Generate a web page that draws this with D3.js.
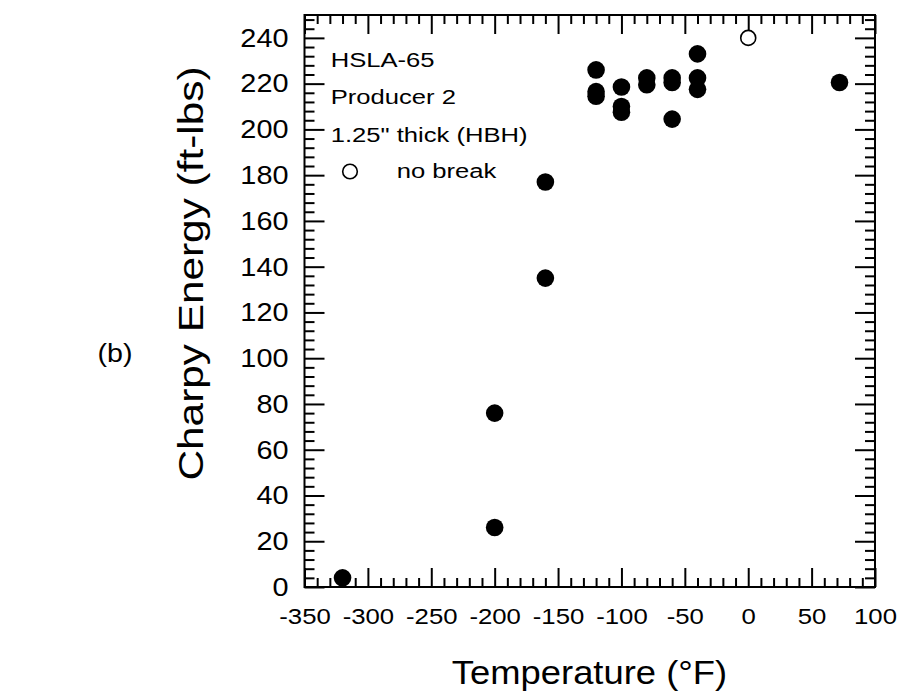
<html>
<head>
<meta charset="UTF-8">
<title>Charpy Energy</title>
<script src="https://d3js.org/d3.v7.min.js"></script>
<style>
html,body{margin:0;padding:0;background:#fff;}
text{font-family:"Liberation Sans",Arial,Helvetica,sans-serif;fill:#000;}
</style>
</head>
<body>
<div id="container"></div>
<script>
// broken specimens
const temps  = [-320, -200, -200, -160, -160, -120, -120, -120, -100, -100, -100, -80, -80, -60, -60, -60, -40, -40, -40, 72]
const energy = [4, 26, 76, 135, 177, 226, 216.5, 214.5, 218.5, 210, 207.5, 222.5, 219.5, 222.5, 220.5, 204.5, 233, 222.5, 217.5, 220.5]
// no break
const noBreakTemps  = [0]
const noBreakEnergy = [240]

const xTicks = [-350, -300, -250, -200, -150, -100, -50, 0, 50, 100]
const yTicks = [0, 20, 40, 60, 80, 100, 120, 140, 160, 180, 200, 220, 240]
const legendLines = ['HSLA-65', 'Producer 2', '1.25" thick (HBH)']
const legendOpen = 'no break'

const width = 898, height = 698
const marge = {top: 15, right: 23, bottom: 111, left: 304.5}
const W = width - marge.left - marge.right
const H = height - marge.top - marge.bottom

const svg = d3.select('#container').append('svg')
  .attr('width', width).attr('height', height)

const g = svg.append('g')
  .attr('transform', 'translate(' + marge.left + ',' + marge.top + ')')

const x = d3.scaleLinear().domain([-350, 100]).range([0, W])
const y = d3.scaleLinear().domain([0, 250]).range([H, 0])

const xMinor = d3.range(-350, 101, 10).filter(v => v % 50 !== 0)
const yMinor = d3.range(0, 250, 4).filter(v => v % 20 !== 0)

const fmt = d => String(d)

function clean(sel) {
  sel.selectAll('.domain').remove()
  sel.selectAll('line').attr('stroke', '#000').attr('stroke-width', 2)
}

// bottom
const bx = g.append('g').attr('transform', 'translate(0,' + H + ')')
bx.append('g').call(d3.axisBottom(x).tickValues(xTicks).tickSize(-19).tickPadding(21).tickFormat(fmt))
bx.append('g').call(d3.axisBottom(x).tickValues(xMinor).tickSize(-9).tickFormat(''))
bx.call(clean)
bx.selectAll('text').attr('font-size', 23).attr('transform', 'scale(1.12,1)')

// top
const tx = g.append('g')
tx.append('g').call(d3.axisTop(x).tickValues(xTicks).tickSize(-19).tickFormat(''))
tx.append('g').call(d3.axisTop(x).tickValues(xMinor).tickSize(-9).tickFormat(''))
tx.call(clean)

// left
const ly = g.append('g')
ly.append('g').call(d3.axisLeft(y).tickValues(yTicks).tickSize(-20).tickPadding(16).tickFormat(fmt))
ly.append('g').call(d3.axisLeft(y).tickValues(yMinor).tickSize(-10).tickFormat(''))
ly.call(clean)
ly.selectAll('text').attr('font-size', 26).attr('x', -16 / 1.11).attr('transform', 'scale(1.11,1)')

// right
const ry = g.append('g').attr('transform', 'translate(' + W + ',0)')
ry.append('g').call(d3.axisRight(y).tickValues(yTicks).tickSize(-20).tickFormat(''))
ry.append('g').call(d3.axisRight(y).tickValues(yMinor).tickSize(-10).tickFormat(''))
ry.call(clean)

// frame
g.append('rect')
  .attr('width', W).attr('height', H)
  .attr('fill', 'none').attr('stroke', '#000').attr('stroke-width', 2)

// points
g.selectAll('.pt')
  .data(temps.map((t, i) => [t, energy[i]]))
  .enter().append('circle')
  .attr('class', 'pt')
  .attr('cx', d => x(d[0]))
  .attr('cy', d => y(d[1]))
  .attr('r', 8.8)
  .attr('fill', '#000')

g.selectAll('.nb')
  .data(noBreakTemps.map((t, i) => [t, noBreakEnergy[i]]))
  .enter().append('circle')
  .attr('class', 'nb')
  .attr('cx', d => x(d[0]))
  .attr('cy', d => y(d[1]))
  .attr('r', 7.5)
  .attr('fill', '#fff')
  .attr('stroke', '#000')
  .attr('stroke-width', 1.6)

// legend
svg.selectAll('.leg')
  .data(legendLines)
  .enter().append('text')
  .attr('class', 'leg')
  .attr('transform', (d, i) => 'translate(330.7,' + (66.7 + i * 37.5) + ') scale(1.22,1)')
  .attr('font-size', 21)
  .text(d => d)

svg.append('circle')
  .attr('cx', 350).attr('cy', 171.5).attr('r', 7.3)
  .attr('fill', '#fff').attr('stroke', '#000').attr('stroke-width', 1.6)
svg.append('text')
  .attr('transform', 'translate(396.7,178) scale(1.22,1)')
  .attr('font-size', 21)
  .text(legendOpen)

// axis titles
svg.append('text')
  .attr('transform', 'translate(589.5,684) scale(1.07,1)')
  .attr('text-anchor', 'middle')
  .attr('font-size', 34)
  .text('Temperature (°F)')

svg.append('text')
  .attr('transform', 'translate(203,273.5) rotate(-90) scale(1.21,1)')
  .attr('text-anchor', 'middle')
  .attr('font-size', 35)
  .text('Charpy Energy (ft-lbs)')

svg.append('text')
  .attr('transform', 'translate(115,362) scale(1.1,1)')
  .attr('text-anchor', 'middle')
  .attr('font-size', 26)
  .text('(b)')
</script>
</body>
</html>
